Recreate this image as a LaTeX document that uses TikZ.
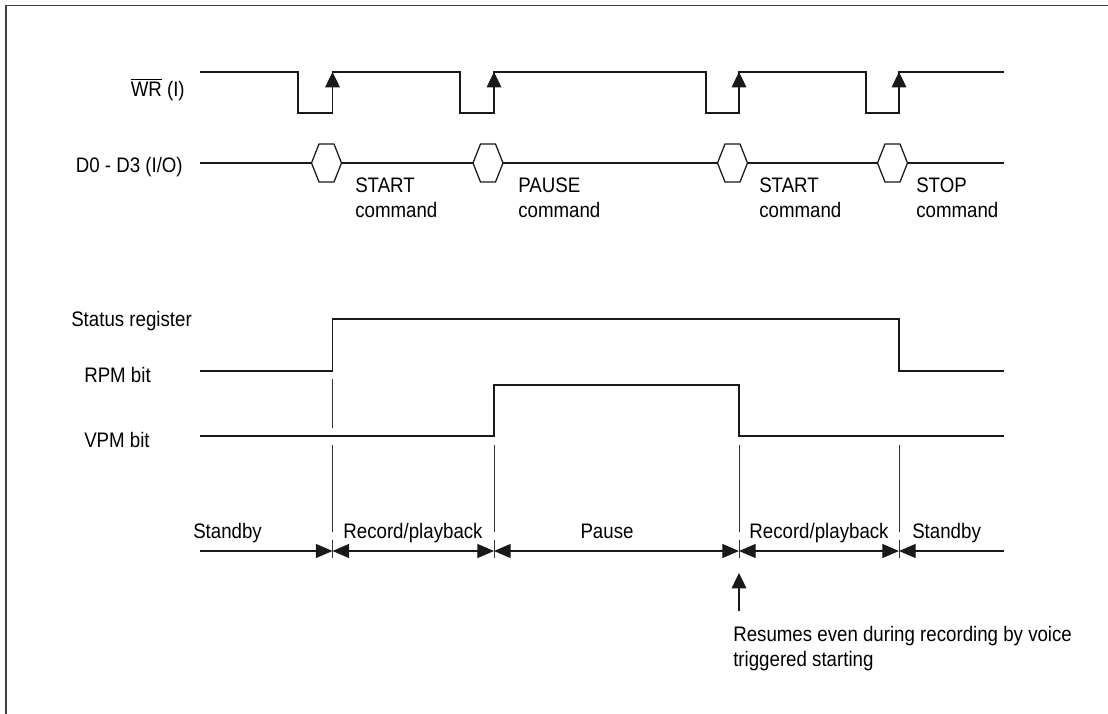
\documentclass[tikz,border=0pt]{standalone}
\usepackage{fontspec}
\setmainfont{Liberation Sans}[FakeStretch=0.89]
\usetikzlibrary{arrows.meta}

\begin{document}
\begin{tikzpicture}[
  x=0.75pt, y=-0.75pt,
  every node/.style={font=\fontsize{15.75}{18.75}\selectfont, inner sep=0pt},
  frame/.style={draw=black!75, line width=1.2pt},
  sig/.style={draw=black!90, line width=0.95pt, line join=miter},
  guide/.style={draw=black!80, line width=0.7pt},
  edgearr/.style={sig, -{Triangle[length=11.5pt, width=11pt]}},
  phase/.style={sig, {Triangle[length=12.5pt, width=10.5pt]}-{Triangle[length=12.5pt, width=10.5pt]}},
  lbl/.style={anchor=base east},
  cmd/.style={anchor=north west, align=left}
]
\useasboundingbox (0,0) rectangle (1108,714);

%--- Frame ---
\draw[frame] (6,714) -- (6,5.5) -- (1108,5.5);

%--- WR strobe ---
\node[lbl] (wr) at (185,96) {$\overline{\mbox{WR}}$ (I)};
\draw[sig] (200,72) -- (298,72) |- (332.5,113) -- (332.5,72) -- (460,72) |- (494,113) -- (494,72)
  -- (706,72) |- (739,113) -- (739,72) -- (866,72) |- (899,113) -- (899,72) -- (1004,72);
\foreach \e in {332.5,494,739,899}
  \draw[edgearr] (\e,113) -- (\e,72);

%--- Data bus ---
\node[lbl] (data) at (183,172) {D0 - D3 (I/O)};
\draw[sig] (200,163) -- (1004,163);
\foreach \c in {326.5,488,732.5,892.5}
  \draw[sig, fill=white] ({\c-15},163) -- ({\c-7.5},144) -- ({\c+7.5},144) -- ({\c+15},163)
    -- ({\c+7.5},182) -- ({\c-7.5},182) -- cycle;

\node[cmd] (cmd1) at (355,178) {START\\command};
\node[cmd] (cmd2) at (518,178) {PAUSE\\command};
\node[cmd] (cmd3) at (759,178) {START\\command};
\node[cmd] (cmd4) at (916,178) {STOP\\command};

%--- Status register ---
\node[anchor=base west] (stat) at (71,326) {Status register};
\node[anchor=base west] (rpm) at (84,382) {RPM bit};
\node[anchor=base west] (vpm) at (84,447) {VPM bit};
\draw[sig] (200,371) -- (332.5,371) -- (332.5,319) -- (899,319) -- (899,371) -- (1004,371);
\draw[sig] (200,436) -- (494,436) -- (494,385) -- (739,385) -- (739,436) -- (1004,436);

% guide lines
\draw[guide] (332.5,379) -- (332.5,428);
\foreach \e in {332.5,494,739,899} {
  \draw[guide] (\e,445) -- (\e,532);
  \draw[guide] (\e,540) -- (\e,558);
}

%--- Phases ---
\draw[sig, -{Triangle[length=12.5pt, width=10.5pt]}] (200,551) -- (332.5,551);
\draw[phase] (332.5,551) -- (494,551);
\draw[phase] (494,551) -- (739,551);
\draw[phase] (739,551) -- (899,551);
\draw[sig, {Triangle[length=12.5pt, width=10.5pt]}-] (899,551) -- (1004,551);

\node[anchor=base west] (sb1) at (193,538) {Standby};
\node[anchor=base] (rp1) at (413,538) {Record/playback};
\node[anchor=base] (ps) at (607,538) {Pause};
\node[anchor=base] (rp2) at (819,538) {Record/playback};
\node[anchor=base west] (sb2) at (912,538) {Standby};

%--- Note ---
\draw[edgearr] (739,611) -- (739,573);
\node[cmd] (note) at (733,626) {Resumes even during recording by voice\\triggered starting};

\end{tikzpicture}
\end{document}
